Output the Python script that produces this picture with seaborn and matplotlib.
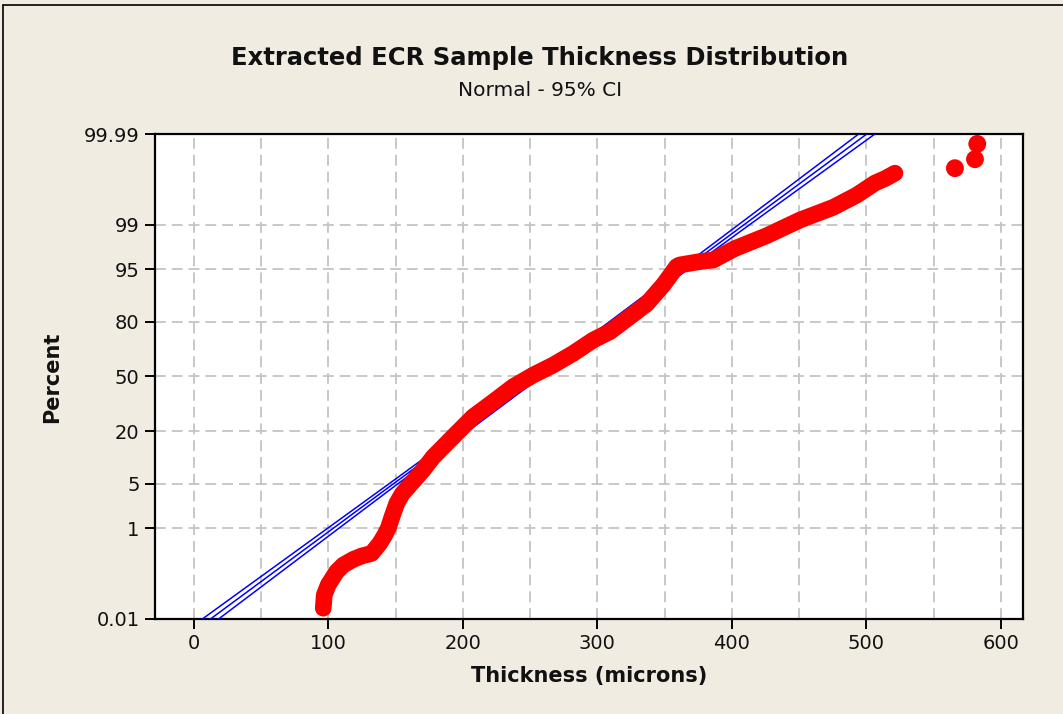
import numpy as np
import pandas as pd
import matplotlib
matplotlib.use("Agg")
import matplotlib.pyplot as plt
import seaborn as sns
from statistics import NormalDist
from matplotlib.lines import Line2D
from matplotlib.ticker import NullLocator, MultipleLocator

# ---- data ----
thickness = [96.3, 97.0, 100.0, 106.2, 111.2, 118.6, 124.8, 132.3, 138.4, 142.0,
             144.6, 147.5, 151.0, 155.0, 161.5, 170.6, 178.1, 192.9, 207.8, 222.7,
             237.5, 252.4, 267.3, 282.2, 297.0, 309.4, 319.4, 336.7, 349.1, 359.0,
             361.2, 376.2, 386.2, 402.0, 426.0, 450.7, 475.5, 492.9, 506.5, 514.0,
             521.3]
percent = [0.019, 0.04, 0.07, 0.138, 0.192, 0.252, 0.295, 0.334, 0.53, 0.75,
           1.0, 1.6, 2.6, 3.6, 5.0, 7.6, 10.9, 17.8, 26.9, 34.9,
           43.8, 50.9, 57.0, 63.9, 71.2, 75.4, 80.0, 86.7, 92.0, 95.4,
           95.64, 96.1, 96.3, 97.5, 98.46, 99.18, 99.527, 99.73, 99.85, 99.88,
           99.909]
outlier_thickness = [565.9, 580.8, 582.5]
outlier_percent = [99.93, 99.957, 99.982]

fit_mean = 256.4
fit_sd = 65.6
sample_n = 3600

x_ticks = [0, 100, 200, 300, 400, 500, 600]
y_ticks = [0.01, 1, 5, 20, 50, 80, 95, 99, 99.99]
y_tick_labels = ["0.01", "1", "5", "20", "50", "80", "95", "99", "99.99"]

title = "Extracted ECR Sample Thickness Distribution"
subtitle = "Normal - 95% CI"
x_label = "Thickness (microns)"
y_label = "Percent"

# ---- probability (probit) scale ----
_nd = NormalDist()
_ppf = np.vectorize(_nd.inv_cdf, otypes=[float])
_cdf = np.vectorize(_nd.cdf, otypes=[float])


def p_to_z(p):
    q = np.clip(np.asarray(p, dtype=float) / 100.0, 1e-12, 1 - 1e-12)
    return _ppf(q)


def z_to_p(z):
    return _cdf(np.asarray(z, dtype=float)) * 100.0


sns.set_style("white")
plt.rcParams["font.family"] = ["DejaVu Sans"]

W, H = 1063, 714
fig = plt.figure(figsize=(W / 100, H / 100), dpi=100)
bg = "#F0ECE2"
fig.patch.set_facecolor(bg)

ax = fig.add_axes([155 / W, (H - 619) / H, (1023 - 155) / W, (619 - 134) / H])
ax.set_facecolor("white")
ax.set_yscale("function", functions=(p_to_z, z_to_p))

# fitted line and 95% CI (from fitted parameters)
p_line = np.linspace(0.005, 99.995, 600)
z_line = p_to_z(p_line)
x_fit = fit_mean + z_line * fit_sd
half = 1.96 * fit_sd * np.sqrt((1 + z_line ** 2 / 2) / sample_n)
fit_df = pd.DataFrame({
    "x": np.concatenate([x_fit, x_fit - half, x_fit + half]),
    "p": np.concatenate([p_line, p_line, p_line]),
    "line": ["fit"] * len(p_line) + ["lo"] * len(p_line) + ["hi"] * len(p_line),
})
for name, g in fit_df.groupby("line"):
    sns.lineplot(data=g, x="x", y="p", sort=False, estimator=None, ax=ax,
                 color="#0000FF", linewidth=1.1, zorder=3)

pts = pd.DataFrame({"thickness": thickness, "percent": percent})
sns.lineplot(data=pts, x="thickness", y="percent", sort=False, estimator=None,
             ax=ax, color="#FF0000", linewidth=12, zorder=4,
             solid_capstyle="round", solid_joinstyle="round")
sns.scatterplot(data=pts, x="thickness", y="percent", ax=ax, color="#FF0000",
                s=125, edgecolor="none", zorder=5)
out = pd.DataFrame({"thickness": outlier_thickness, "percent": outlier_percent})
sns.scatterplot(data=out, x="thickness", y="percent", ax=ax, color="#FF0000",
                s=165, edgecolor="none", zorder=5)

ax.set_xlim(-28.8, 616.5)
ax.set_ylim(0.01, 99.99)
ax.set_xticks(x_ticks)
ax.xaxis.set_minor_locator(MultipleLocator(50))
ax.set_yticks(y_ticks)
ax.set_yticklabels(y_tick_labels)
ax.yaxis.set_minor_locator(NullLocator())

grid_kw = dict(color="#C4C4C4", linestyle=(0, (6, 3.3)), linewidth=1.3)
ax.grid(True, which="both", axis="x", **grid_kw)
ax.grid(True, which="major", axis="y", **grid_kw)
ax.set_axisbelow(True)

ax.tick_params(axis="both", which="major", direction="out", length=7, width=1.4,
               color="black", labelsize=14, labelcolor="#111111", pad=4,
               left=True, bottom=True)
ax.tick_params(axis="x", which="minor", length=0)
for s in ax.spines.values():
    s.set_visible(True)
    s.set_color("black")
    s.set_linewidth(1.6)

ax.set_xlabel("")
ax.set_ylabel("")
fig.text(589 / W, 1 - 676 / H, x_label, ha="center", va="center",
         fontsize=15, fontweight="bold", color="#111111")
fig.text(52 / W, 1 - 377 / H, y_label, ha="center", va="center", rotation=90,
         fontsize=15, fontweight="bold", color="#111111")
fig.text(540 / W, 1 - 58 / H, title, ha="center", va="center",
         fontsize=17.5, fontweight="bold", color="#111111")
fig.text(540 / W, 1 - 90 / H, subtitle, ha="center", va="center",
         fontsize=14.5, color="#111111")

# figure border (left and top)
fig.add_artist(Line2D([3 / W, 3 / W], [0, 1 - 5 / H], transform=fig.transFigure,
                      color="black", linewidth=1.2))
fig.add_artist(Line2D([3 / W, 1], [1 - 5 / H, 1 - 5 / H], transform=fig.transFigure,
                      color="black", linewidth=1.2))

fig.savefig("out.png", dpi=100, facecolor=bg)
